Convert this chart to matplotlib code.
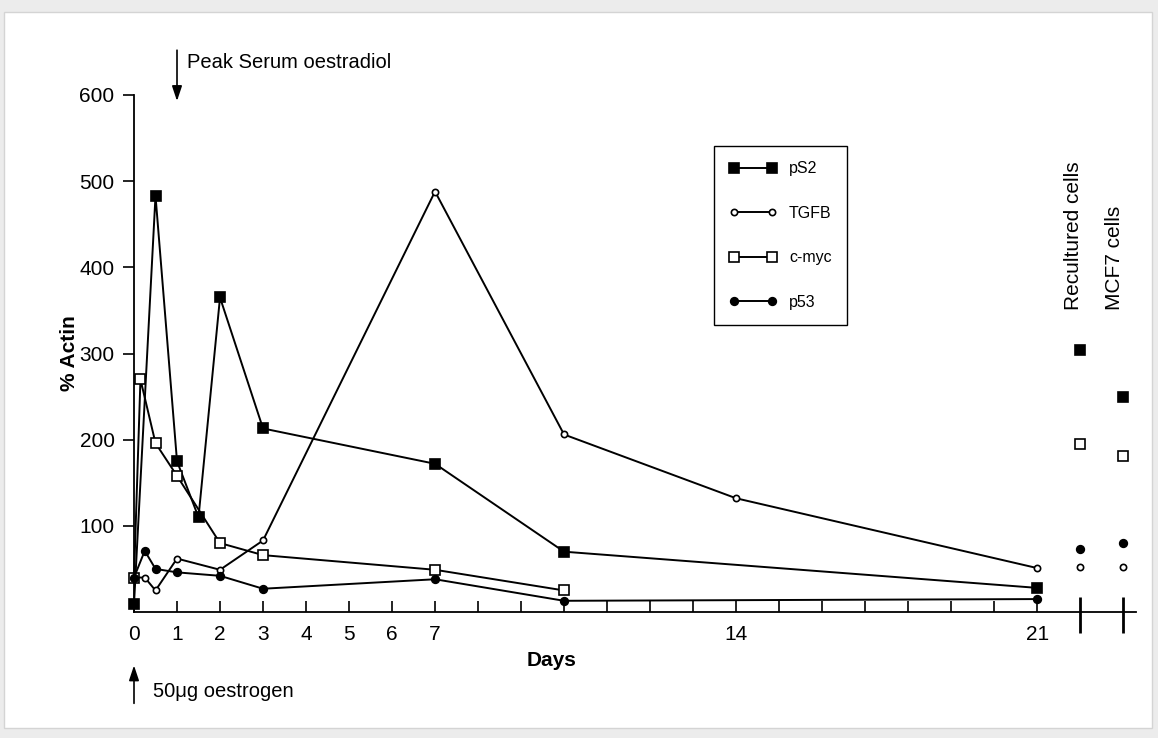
import matplotlib
matplotlib.use('Agg')
import matplotlib.pyplot as plt
from matplotlib.patches import Rectangle

plt.rcParams['font.family'] = ['Liberation Sans', 'DejaVu Sans']

## time course (days)
ps2_days = [0, 0.5, 1, 1.5, 2, 3, 7, 10, 21]
ps2_vals = [9, 483, 175, 110, 365, 213, 172, 70, 28]

tgfb_days = [0, 0.25, 0.5, 1, 2, 3, 7, 10, 14, 21]
tgfb_vals = [40, 40, 25, 62, 49, 83, 488, 206, 132, 51]

myc_days = [0, 0.15, 0.5, 1, 2, 3, 7, 10]
myc_vals = [40, 270, 196, 158, 80, 66, 49, 25]

p53_days = [0, 0.25, 0.5, 1, 2, 3, 7, 10, 21]
p53_vals = [40, 71, 50, 46, 42, 27, 38, 13, 15]

## control cells: recultured, MCF7
cell_pos = [22, 23]
cell_names = ['Recultured cells', 'MCF7 cells']
ps2_cells = [304, 250]
tgfb_cells = [52, 52]
myc_cells = [195, 181]
p53_cells = [73, 80]

day_ticks = list(range(22))
day_labels = ['0', '1', '2', '3', '4', '5', '6', '7', '14', '21']
y_ticks = [100, 200, 300, 400, 500, 600]

fig = plt.figure(figsize=(11.58, 7.38), dpi=100)
fig.patch.set_facecolor('#ececec')
fig.add_artist(Rectangle((4/1158, 10/738), 1148/1158, 716/738, transform=fig.transFigure,
                         facecolor='white', edgecolor='#d4d4d4', lw=1, zorder=-10))

ax = fig.add_axes([134/1158, 126/738, 1002/1158, 517/738])
ax.patch.set_alpha(0)

lw = 1.4
styles = [
    ('pS2', ps2_days, ps2_vals, ps2_cells, dict(marker='s', ms=7, mfc='black')),
    ('TGFB', tgfb_days, tgfb_vals, tgfb_cells, dict(marker='o', ms=4.5, mfc='white')),
    ('c-myc', myc_days, myc_vals, myc_cells, dict(marker='s', ms=6.5, mfc='white')),
    ('p53', p53_days, p53_vals, p53_cells, dict(marker='o', ms=5.5, mfc='black')),
]
handles = []
for name, d, v, c, st in styles:
    h, = ax.plot(d, v, color='black', lw=lw, mec='black', mew=1.2, clip_on=False, label=name, **st)
    ax.plot(cell_pos, c, ls='none', mec='black', mew=1.2, clip_on=False, **st)
    handles.append(h)

ax.set_xlim(0, 23.3)
ax.set_ylim(0, 600)
for s in ['top', 'right']:
    ax.spines[s].set_visible(False)
ax.spines['left'].set_linewidth(1.3)
ax.spines['bottom'].set_linewidth(1.3)

labs = []
for t in day_ticks:
    labs.append(str(t) if str(t) in day_labels else '')
ax.set_xticks(day_ticks)
ax.set_xticklabels(labs)
ax.set_yticks(y_ticks)
ax.tick_params(axis='x', direction='in', length=8, width=1.2, labelsize=15, pad=9)
ax.tick_params(axis='y', direction='out', length=8, width=1.2, labelsize=15, pad=6)

## break marks for the control cells
ax.vlines(cell_pos, -24, 17, color='black', lw=2, clip_on=False)
for x, n in zip(cell_pos, cell_names):
    ax.text(x - 0.15 if x == cell_pos[0] else x - 0.2, 350, n, rotation=90, ha='center', va='bottom', fontsize=15)

ax.text(9.7, -56, 'Days', ha='center', va='center', fontsize=15, fontweight='bold')
ax.text(-1.5, 300, '% Actin', rotation=90, ha='center', va='center', fontsize=15, fontweight='bold')

arr = dict(arrowstyle='-|>,head_length=0.9,head_width=0.3', color='black', lw=1.2, shrinkA=0, shrinkB=0)
ax.annotate('', xy=(1, 593), xytext=(1, 652), arrowprops=arr, annotation_clip=False)
ax.text(1.23, 638, 'Peak Serum oestradiol', ha='left', va='center', fontsize=14.5)
ax.annotate('', xy=(0, -62), xytext=(0, -106), arrowprops=arr, annotation_clip=False)
ax.text(0.44, -92, '50\u03bcg oestrogen', ha='left', va='center', fontsize=14.5)

leg = ax.legend(handles=handles, loc='upper left', bbox_to_anchor=(714/1158, 1 - 146/738),
                bbox_transform=fig.transFigure, numpoints=2, fontsize=11.5, frameon=True,
                fancybox=False, framealpha=1, edgecolor='black', borderpad=0.95, borderaxespad=0,
                labelspacing=1.85, handlelength=3.0, handletextpad=0.75)
leg.get_frame().set_linewidth(1.0)

fig.savefig('out.png', dpi=100, facecolor=fig.get_facecolor())
